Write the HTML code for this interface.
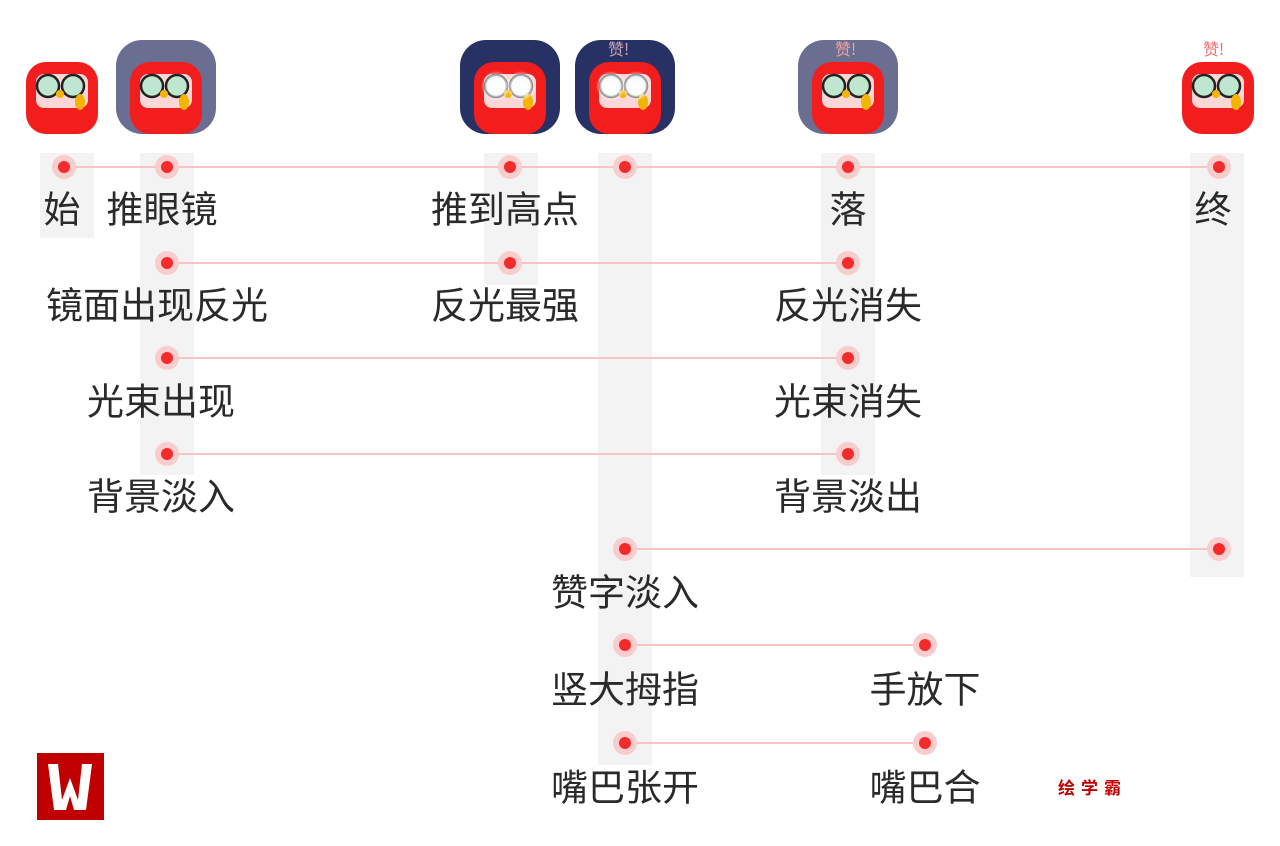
<!DOCTYPE html>
<html><head><meta charset="utf-8"><style>
body{margin:0;width:1280px;height:846px;background:#fff;position:relative;overflow:hidden;font-family:"Liberation Sans","Noto Sans CJK SC",sans-serif}
.bar{position:absolute;background:#f3f3f3;width:54px}
.ln{position:absolute;height:2px;background:#f7c4c4}
.dot{position:absolute;width:24px;height:24px;border-radius:50%;background:#f9cdcd}
.dot:after{content:"";position:absolute;left:6px;top:6px;width:12px;height:12px;border-radius:50%;background:#f52a2a}
.t{position:absolute;font-size:37px;color:#2a2a2a;transform:translate(-50%,-50%);white-space:nowrap;line-height:1}
.bg{position:absolute;width:100px;height:94px;border-radius:26px}
</style></head><body>
<div class="bar" style="left:40px;top:153px;height:85px"></div>
<div class="bar" style="left:140px;top:153px;height:322px"></div>
<div class="bar" style="left:484px;top:153px;height:132px"></div>
<div class="bar" style="left:598px;top:153px;height:612px"></div>
<div class="bar" style="left:821px;top:153px;height:322px"></div>
<div class="bar" style="left:1190px;top:153px;height:424px"></div>

<div class="ln" style="left:64px;width:1155px;top:166px"></div>
<div class="ln" style="left:167px;width:681px;top:262px"></div>
<div class="ln" style="left:167px;width:681px;top:357px"></div>
<div class="ln" style="left:167px;width:681px;top:453px"></div>
<div class="ln" style="left:625px;width:594px;top:548px"></div>
<div class="ln" style="left:625px;width:300px;top:644px"></div>
<div class="ln" style="left:625px;width:300px;top:742px"></div>

<div class="dot" style="left:52px;top:155px"></div>
<div class="dot" style="left:155px;top:155px"></div>
<div class="dot" style="left:498px;top:155px"></div>
<div class="dot" style="left:613px;top:155px"></div>
<div class="dot" style="left:836px;top:155px"></div>
<div class="dot" style="left:1207px;top:155px"></div>
<div class="dot" style="left:155px;top:251px"></div>
<div class="dot" style="left:498px;top:251px"></div>
<div class="dot" style="left:836px;top:251px"></div>
<div class="dot" style="left:155px;top:346px"></div>
<div class="dot" style="left:836px;top:346px"></div>
<div class="dot" style="left:155px;top:442px"></div>
<div class="dot" style="left:836px;top:442px"></div>
<div class="dot" style="left:613px;top:537px"></div>
<div class="dot" style="left:1207px;top:537px"></div>
<div class="dot" style="left:613px;top:633px"></div>
<div class="dot" style="left:913px;top:633px"></div>
<div class="dot" style="left:613px;top:731px"></div>
<div class="dot" style="left:913px;top:731px"></div>

<div class="t" style="left:62px;top:210px">始</div>
<div class="t" style="left:162px;top:210px">推眼镜</div>
<div class="t" style="left:505px;top:210px">推到高点</div>
<div class="t" style="left:848px;top:210px">落</div>
<div class="t" style="left:1213px;top:210px">终</div>
<div class="t" style="left:157px;top:306px">镜面出现反光</div>
<div class="t" style="left:505px;top:306px">反光最强</div>
<div class="t" style="left:848px;top:306px">反光消失</div>
<div class="t" style="left:161px;top:402px">光束出现</div>
<div class="t" style="left:848px;top:402px">光束消失</div>
<div class="t" style="left:161px;top:497px">背景淡入</div>
<div class="t" style="left:848px;top:497px">背景淡出</div>
<div class="t" style="left:625px;top:593px">赞字淡入</div>
<div class="t" style="left:625px;top:690px">竖大拇指</div>
<div class="t" style="left:925px;top:690px">手放下</div>
<div class="t" style="left:625px;top:788px">嘴巴张开</div>
<div class="t" style="left:925px;top:788px">嘴巴合</div>

<div class="bg" style="left:116px;top:40px;background:#6a6f92"></div>
<div class="bg" style="left:460px;top:40px;background:#283163"></div>
<div class="bg" style="left:575px;top:40px;background:#283163"></div>
<div class="bg" style="left:798px;top:40px;background:#6a6f92"></div>

<svg width="1280" height="846" style="position:absolute;left:0;top:0">
<defs>
<g id="c">
<rect x="2" y="2" width="72" height="72" rx="20" fill="#f21e1e"/>
<rect x="12" y="14" width="52" height="34" rx="8" fill="#fbd6d6"/>
<circle cx="24" cy="26" r="11" fill="#bfe6cf" stroke="#222" stroke-width="2.5"/>
<circle cx="49" cy="26" r="11" fill="#bfe6cf" stroke="#222" stroke-width="2.5"/>
<circle cx="36" cy="34" r="4" fill="#f5b400"/>
<ellipse cx="56" cy="42" rx="5" ry="8" fill="#f5b400"/>
</g>
<radialGradient id="gl"><stop offset="0" stop-color="#fff"/><stop offset="0.6" stop-color="#fff" stop-opacity="0.9"/><stop offset="1" stop-color="#fff" stop-opacity="0"/></radialGradient>
</defs>
<use href="#c" x="24" y="60"/>
<use href="#c" x="128" y="60"/>
<use href="#c" x="472" y="60"/>
<use href="#c" x="587" y="60"/>
<use href="#c" x="810" y="60"/>
<use href="#c" x="1180" y="60"/>
<circle cx="496" cy="86" r="15" fill="url(#gl)"/><circle cx="521" cy="86" r="15" fill="url(#gl)"/>
<circle cx="611" cy="86" r="15" fill="url(#gl)"/><circle cx="636" cy="86" r="15" fill="url(#gl)"/>
<text x="608" y="55" font-size="16" fill="#c9a3b6" font-family="Noto Sans CJK SC">赞!</text>
<text x="835" y="55" font-size="16" fill="#f0a0a0" font-family="Noto Sans CJK SC">赞!</text>
<text x="1203" y="55" font-size="16" fill="#f07070" font-family="Noto Sans CJK SC">赞!</text>
<rect x="37" y="753" width="67" height="67" fill="#c00000"/>
<path d="M48 764 L58 764 L62 800 L70 778 L78 800 L82 764 L92 764 L86 810 L74 810 L70 796 L66 810 L54 810 Z" fill="#fff"/>
<text x="1058" y="794" font-size="17" font-weight="bold" fill="#c00000" font-family="Noto Sans CJK SC" letter-spacing="6">绘学霸</text>
</svg>
</body></html>
